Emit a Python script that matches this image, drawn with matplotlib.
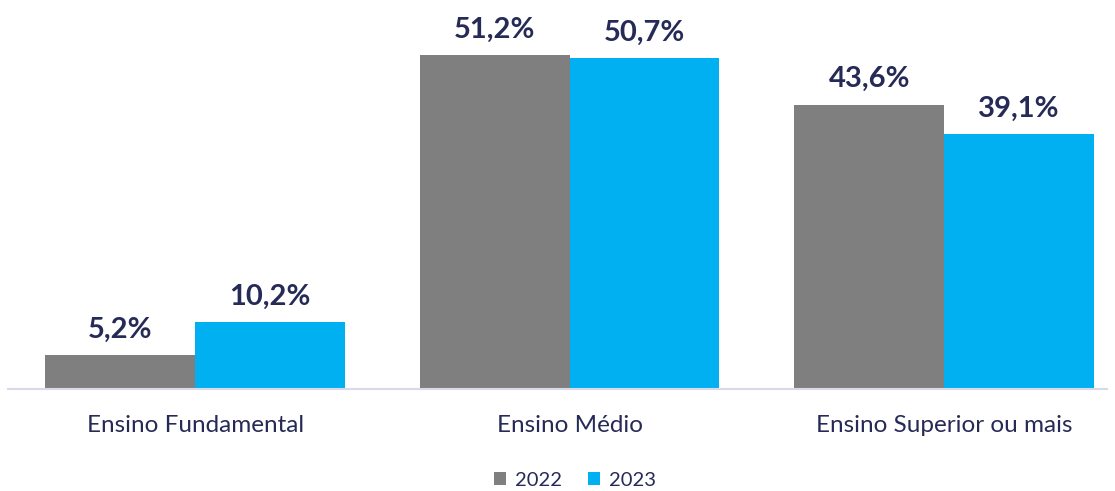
import matplotlib.pyplot as plt
import numpy as np

categories = ["Ensino Fundamental", "Ensino Médio", "Ensino Superior ou mais"]
values_2022 = [5.2, 51.2, 43.6]
values_2023 = [10.2, 50.7, 39.1]
series_names = ["2022", "2023"]

GRAY = "#7F7F7F"
BLUE = "#00B0F0"
NAVY = "#262A56"

plt.rcParams['font.family'] = ['Lato', 'DejaVu Sans']

fig = plt.figure(figsize=(11.15, 4.91), dpi=100)
ax = fig.add_axes([8 / 1115, 1 - 389 / 491, 1099 / 1115, 389 / 491])

x = np.arange(len(categories))
w = 0.4
b1 = ax.bar(x - w / 2, values_2022, w, color=GRAY, label=series_names[0])
b2 = ax.bar(x + w / 2, values_2023, w, color=BLUE, label=series_names[1])

# value labels above each bar
for bars, vals in [(b1, values_2022), (b2, values_2023)]:
    for rect, v in zip(bars, vals):
        ax.annotate(f"{v:.1f}%".replace(".", ","),
                    (rect.get_x() + rect.get_width() / 2, rect.get_height()),
                    xytext=(0, 9), textcoords="offset points",
                    ha="center", va="bottom", fontsize=21, fontweight="bold", color=NAVY)

ax.set_xlim(-0.5, 2.435)
ax.set_ylim(0, 59.66)
ax.set_yticks([])
ax.set_xticks(x)
ax.set_xticklabels(categories, fontsize=17.5, color=NAVY)
ax.tick_params(axis="x", length=0, pad=19)
for s in ["top", "right", "left"]:
    ax.spines[s].set_visible(False)
ax.spines["bottom"].set_color("#D9D9EC")
ax.spines["bottom"].set_linewidth(1.5)

fig.legend(loc="center", bbox_to_anchor=(575 / 1115, 1 - 480 / 491), ncol=2, frameon=False,
           fontsize=14.5, handlelength=0.6, handleheight=0.6, handletextpad=0.45,
           columnspacing=1.3, labelcolor=NAVY, borderaxespad=0)

fig.savefig("out.png", dpi=100)
